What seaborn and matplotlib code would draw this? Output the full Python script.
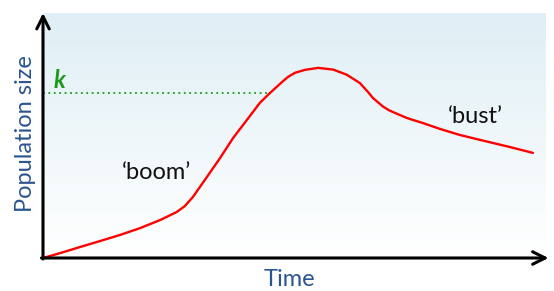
import matplotlib
matplotlib.use("Agg")
import matplotlib.pyplot as plt
import seaborn as sns
import pandas as pd
import numpy as np

# values (time and population on a 0-100 scale)
time = [0, 3.4, 7.4, 11.3, 15.3, 19.3, 23.3, 26.6, 28.2, 29.8, 31.2, 32.6,
        35.2, 37.8, 41.0, 43.1, 45.1, 47.5, 48.7, 50.1, 52.1, 54.7, 57.7,
        60.4, 63.0, 64.6, 65.6, 67.6, 68.8, 70.0, 72.4, 75.5, 78.9, 82.9,
        86.9, 92.8, 97.4]
population = [0, 2.0, 4.5, 6.9, 9.4, 12.2, 15.5, 18.8, 21.2, 24.9, 29.0,
              33.1, 40.8, 49.0, 57.6, 63.3, 67.3, 71.8, 73.9, 75.6, 76.8,
              77.6, 76.9, 74.8, 71.4, 67.8, 65.3, 61.8, 60.3, 59.2, 57.1,
              55.1, 52.7, 50.2, 48.2, 45.3, 42.9]
k_level = 67.3
k_end = 45.1
labels = ["\u2018boom\u2019", "\u2018bust\u2019"]
label_pos = [(22.6, 34.7), (85.9, 57.6)]

df = pd.DataFrame({"Time": time, "Population size": population})

sns.set_style("white")
plt.rcParams["font.family"] = ["Lato", "DejaVu Sans"]

fig = plt.figure(figsize=(5.54, 2.91), dpi=100)
ax = fig.add_axes([43 / 554, 33 / 291, 503 / 554, 245 / 291])
ax.set_xlim(0, 100)
ax.set_ylim(0, 100)

# gradient background, light blue at top to white at bottom
grad = np.linspace(0, 1, 256).reshape(-1, 1)
cmap = matplotlib.colors.LinearSegmentedColormap.from_list(
    "bg", ["#ffffff", "#dfeff5"])
ax.imshow(grad, extent=[0, 100, 0, 100], origin="lower", aspect="auto",
          cmap=cmap, zorder=0)

sns.lineplot(data=df, x="Time", y="Population size", color="red",
             linewidth=1.7, ax=ax, zorder=3, solid_joinstyle="round",
             solid_capstyle="round")

ax.plot([0, k_end], [k_level, k_level], color="#1a9a1a", linestyle=(0, (1, 2)),
        linewidth=1.3, zorder=2)
ax.text(2.0, 69.4, "k", color="#1a9a1a", fontsize=17,
        fontweight="bold", fontstyle="italic", ha="left", va="baseline")

for lab, (x, y) in zip(labels, label_pos):
    ax.text(x, y, lab, fontsize=17, color="#111111", ha="center", va="center")

for s in ax.spines.values():
    s.set_visible(False)
ax.set_xticks([])
ax.set_yticks([])
ax.set_xlabel("")
ax.set_ylabel("")

# axes drawn as arrows
arrow = dict(arrowstyle="->,head_length=0.9,head_width=0.45", color="black",
             lw=2.2, shrinkA=0, shrinkB=0)
ax.annotate("", xy=(0, 100), xytext=(0, -0.4), xycoords="data",
            arrowprops=arrow, annotation_clip=False)
ax.annotate("", xy=(100.5, 0), xytext=(-0.3, 0), xycoords="data",
            arrowprops=arrow, annotation_clip=False)

fig.text(26 / 554, 1 - 134 / 291, "Population size", rotation=90,
         fontsize=17, color="#2b5590", ha="center", va="center")
fig.text(289 / 554, 1 - 279 / 291, "Time", fontsize=17, color="#2b5590",
         ha="center", va="center")

fig.savefig("out.png", dpi=100)
